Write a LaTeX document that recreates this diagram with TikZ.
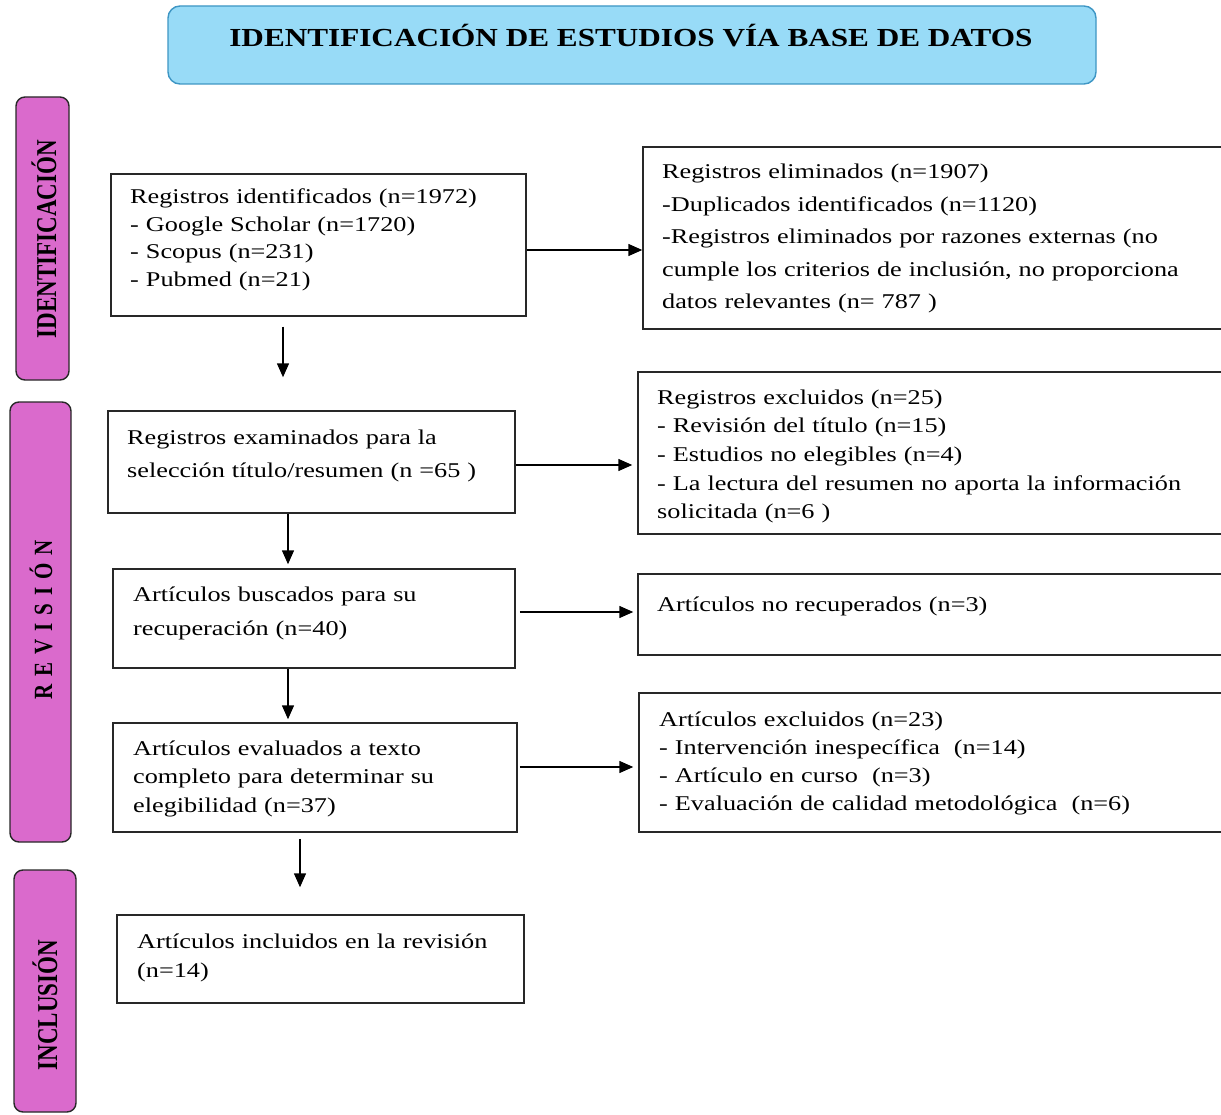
\documentclass[tikz,border=0pt]{standalone}
\usepackage{fontspec}
\usepackage{graphicx}
\setmainfont{Liberation Serif}[FakeStretch=1.25]
\newfontfamily\headfont{Liberation Serif}[FakeStretch=1.2]
\newfontfamily\sidefont{Liberation Serif}
\usetikzlibrary{arrows.meta,calc}
\definecolor{headfill}{RGB}{152,219,247}
\definecolor{headline}{RGB}{62,150,196}
\definecolor{sidefill}{RGB}{218,106,204}
\definecolor{boxline}{RGB}{40,40,40}
\tikzset{
  box/.style={draw=boxline, line width=1.5pt, fill=white, inner sep=0pt, rectangle},
  sidebox/.style={draw=boxline, line width=1.4pt, fill=sidefill, rounded corners=9pt, inner sep=0pt},
  headbox/.style={draw=headline, line width=1.4pt, fill=headfill, rounded corners=12pt, inner sep=0pt},
  txt/.style={anchor=base west, inner sep=0pt, align=left, text width=560pt},
  sidetxt/.style={rotate=90, inner sep=0pt, font=\sidefont\bfseries},
  arr/.style={draw=black, line width=1.5pt, -{Triangle[length=14pt,width=12pt]}},
}
\begin{document}
\begin{tikzpicture}[x=1pt,y=-1pt]
\useasboundingbox (0,0) rectangle (1221,1115);
\clip (0,0) rectangle (1221,1115);
\fill[white] (0,0) rectangle (1221,1115);

% header
\node[headbox, minimum width=928pt, minimum height=78pt] (H) at (632,45) {};
\node[anchor=base, inner sep=0pt, font=\headfont\bfseries\fontsize{26}{30}\selectfont] (HT) at (631,47) {IDENTIFICACIÓN DE ESTUDIOS VÍA BASE DE DATOS};

% side bars
\node[sidebox, minimum width=53pt, minimum height=283pt] (S1) at (42.5,238.5) {};
\node[sidetxt, font=\sidefont\bfseries\fontsize{23}{26}\selectfont] (S1T) at (44,239) {\scalebox{1}[1.25]{IDENTIFICACIÓN}};
\node[sidebox, minimum width=61pt, minimum height=440pt] (S2) at (40.5,622) {};
\node[sidetxt, font=\sidefont\bfseries\fontsize{21}{24}\selectfont] (S2T) at (41,620) {\scalebox{1}[1.25]{R\kern8pt E\kern8pt V\kern8pt I\kern8pt S\kern8pt I\kern8pt Ó\kern8pt N}};
\node[sidebox, minimum width=62pt, minimum height=242pt] (S3) at (45,991) {};
\node[sidetxt, font=\sidefont\bfseries\fontsize{23}{26}\selectfont] (S3T) at (45,1005) {\scalebox{1}[1.25]{INCLUSIÓN}};

% boxes
\node[box, minimum width=415pt, minimum height=142pt] (B1) at (318.5,245) {};
\node[box, minimum width=587pt, minimum height=182pt] (R1) at (936.5,238) {};
\node[box, minimum width=407pt, minimum height=102pt] (B2) at (311.5,462) {};
\node[box, minimum width=592pt, minimum height=162pt] (R2) at (934,453) {};
\node[box, minimum width=402pt, minimum height=99pt] (B3) at (314,618.5) {};
\node[box, minimum width=592pt, minimum height=81pt] (R3) at (934,614.5) {};
\node[box, minimum width=404pt, minimum height=109pt] (B4) at (315,777.5) {};
\node[box, minimum width=591pt, minimum height=139pt] (R4) at (934.5,762.5) {};
\node[box, minimum width=407pt, minimum height=88pt] (B5) at (320.5,959) {};

% texts
\node[txt, font=\fontsize{21}{27.5}\selectfont] (T1) at (130,204) {Registros identificados (n=1972)\\- Google Scholar (n=1720)\\- Scopus (n=231)\\- Pubmed (n=21)};
\node[txt, font=\fontsize{21}{32.5}\selectfont] (TR1) at (662,179) {Registros eliminados (n=1907)\\-Duplicados identificados (n=1120)\\-Registros eliminados por razones externas (no\\cumple los criterios de inclusión, no proporciona\\datos relevantes (n= 787 )};
\node[txt, font=\fontsize{21}{33}\selectfont] (T2) at (127,444) {Registros examinados para la\\selección título/resumen (n =65 )};
\node[txt, font=\fontsize{21}{28.7}\selectfont] (TR2) at (657,404) {Registros excluidos (n=25)\\- Revisión del título (n=15)\\- Estudios no elegibles (n=4)\\- La lectura del resumen no aporta la información\\solicitada (n=6 )};
\node[txt, font=\fontsize{21}{34}\selectfont] (T3) at (133,601) {Artículos buscados para su\\recuperación (n=40)};
\node[txt, font=\fontsize{21}{28}\selectfont] (TR3) at (657,611) {Artículos no recuperados (n=3)};
\node[txt, font=\fontsize{21}{28.5}\selectfont] (T4) at (133,755) {Artículos evaluados a texto\\completo para determinar su\\elegibilidad (n=37)};
\node[txt, font=\fontsize{21}{28.3}\selectfont] (TR4) at (659,726) {Artículos excluidos (n=23)\\- Intervención inespecífica\ \ (n=14)\\- Artículo en curso\ \ (n=3)\\- Evaluación de calidad metodológica\ \ (n=6)};
\node[txt, font=\fontsize{21}{29}\selectfont] (T5) at (137,948) {Artículos incluidos en la revisión\\(n=14)};

% arrows
\draw[arr] (B1.east |- 0,250) -- (R1.west |- 0,250);
\draw[arr, shorten >=5pt] (B2.east |- 0,465) -- (R2.west |- 0,465);
\draw[arr, shorten <=4pt, shorten >=4pt] (B3.east |- 0,612) -- (R3.west |- 0,612);
\draw[arr, shorten <=2pt, shorten >=5pt] (B4.east |- 0,767) -- (R4.west |- 0,767);
\draw[arr, shorten <=10pt, shorten >=33pt] (B1.south -| 283,0) -- (B2.north -| 283,0);
\draw[arr, shorten >=4pt] (B2.south -| 288,0) -- (B3.north -| 288,0);
\draw[arr, shorten >=3pt] (B3.south -| 288,0) -- (B4.north -| 288,0);
\draw[arr, shorten <=6pt, shorten >=27pt] (B4.south -| 300,0) -- (B5.north -| 300,0);
\end{tikzpicture}
\end{document}
